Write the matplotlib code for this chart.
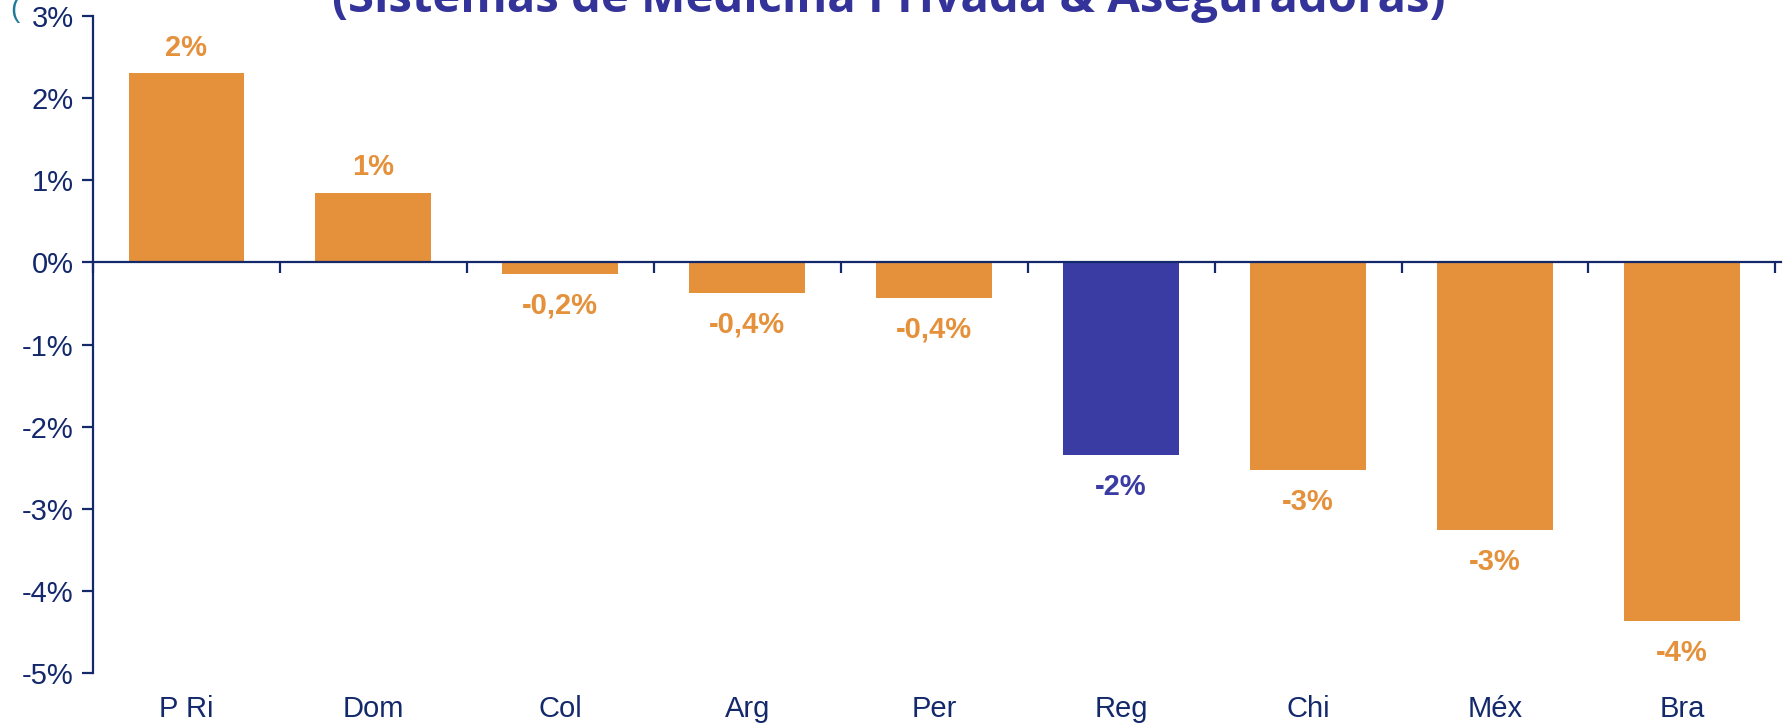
import matplotlib.pyplot as plt
import numpy as np

# data
paises = ['P Ri', 'Dom', 'Col', 'Arg', 'Per', 'Reg', 'Chi', 'Méx', 'Bra']
variacion = [2.31, 0.85, -0.14, -0.37, -0.43, -2.35, -2.53, -3.26, -4.37]
etiquetas = ['2%', '1%', '-0,2%', '-0,4%', '-0,4%', '-2%', '-3%', '-3%', '-4%']
y_ticks = [3, 2, 1, 0, -1, -2, -3, -4, -5]
titulo = '(Sistemas de Medicina Privada & Aseguradoras)'

NARANJA = '#E5903A'
AZUL = '#3A3BA3'
NAVY = '#13296B'

plt.rcParams['font.family'] = ['Liberation Sans', 'DejaVu Sans']

fig = plt.figure(figsize=(17.87, 7.28), dpi=100)
ax = fig.add_axes([93 / 1787, 1 - 673 / 728, (1781 - 93) / 1787, (673 - 16) / 728])

x = np.arange(len(paises))
colores = [AZUL if p == 'Reg' else NARANJA for p in paises]
ax.bar(x, variacion, width=0.62, color=colores, zorder=2)

for xi, v, lab, c in zip(x, variacion, etiquetas, colores):
    if v >= 0:
        ax.annotate(lab, (xi, v), xytext=(0, 8), textcoords='offset points',
                    ha='center', va='bottom', fontsize=21, fontweight='bold', color=c)
    else:
        ax.annotate(lab, (xi, v), xytext=(0, -13), textcoords='offset points',
                    ha='center', va='top', fontsize=21, fontweight='bold', color=c)

# category names under the plot
for xi, p in zip(x, paises):
    ax.text(xi, -0.055, p, transform=ax.get_xaxis_transform(),
            ha='center', va='center', fontsize=21, color=NAVY)

ax.set_xlim(-0.5, 8.53)
ax.set_ylim(-5, 3)
ax.set_yticks(y_ticks)
ax.set_yticklabels([f'{t}%' for t in y_ticks], fontsize=21, color=NAVY)

ax.set_xticks(np.arange(-0.5, 8.6, 1))
ax.set_xticklabels([])

for s in ['top', 'right']:
    ax.spines[s].set_visible(False)
ax.spines['bottom'].set_position(('data', 0))
ax.spines['bottom'].set_color(NAVY)
ax.spines['left'].set_color(NAVY)
ax.spines['bottom'].set_linewidth(1.6)
ax.spines['left'].set_linewidth(1.6)
ax.tick_params(axis='both', color=NAVY, width=1.6, length=8, direction='out')
ax.tick_params(axis='y', pad=6)

fig.text(889, 728 - 12, titulo, transform=None, ha='center', va='baseline',
         fontsize=34, fontweight='bold', color='#333399', family='Open Sans')
fig.text(10 / 1787, 1 - 10 / 728, '(', ha='left', va='center',
         fontsize=20, color='#1F7A99')

fig.savefig('out.png', dpi=100)
